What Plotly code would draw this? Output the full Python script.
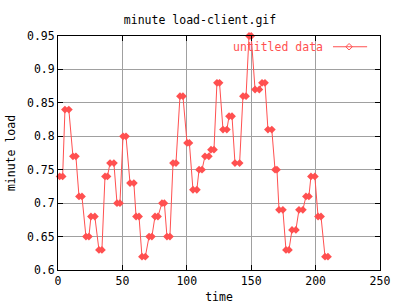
import plotly.graph_objects as go

# plateau start times and load values (each value held over two samples)
start_times = [1.3, 5.4, 11.6, 16.3, 21.7, 25.6, 31.8, 36.5, 40.4, 45.8, 50.5, 55.9,
               60.6, 65.2, 70.7, 75.3, 80.7, 84.6, 89.3, 94.7, 100.2, 104.8, 109.5,
               114.1, 118.8, 123.4, 128.1, 132.8, 137.4, 143.6, 148.3, 153.0, 158.4,
               163.0, 168.5, 171.6, 177.0, 181.7, 187.1, 192.5, 196.4, 201.9, 207.3]
end_times = [3.6, 8.4, 13.9, 18.6, 24.0, 28.6, 34.1, 38.4, 43.4, 48.1, 52.8, 58.9,
             62.9, 67.8, 72.9, 77.6, 82.6, 86.9, 91.6, 97.0, 102.0, 107.8, 111.8,
             117.1, 121.1, 125.4, 131.1, 135.1, 141.0, 146.0, 150.0, 156.3, 160.7,
             166.0, 170.0, 174.6, 179.3, 184.7, 190.1, 194.8, 199.4, 204.2, 209.6]
loads = [0.74, 0.84, 0.77, 0.71, 0.65, 0.68, 0.63, 0.74, 0.76, 0.70, 0.80, 0.73,
         0.68, 0.62, 0.65, 0.68, 0.70, 0.65, 0.76, 0.86, 0.79, 0.72, 0.75, 0.77,
         0.78, 0.88, 0.81, 0.83, 0.76, 0.86, 0.95, 0.87, 0.88, 0.81, 0.75, 0.69,
         0.63, 0.66, 0.69, 0.71, 0.74, 0.68, 0.62]

x_ticks = [0, 50, 100, 150, 200, 250]
y_ticks = [0.6, 0.65, 0.7, 0.75, 0.8, 0.85, 0.9, 0.95]
y_tick_labels = ["0.6", "0.65", "0.7", "0.75", "0.8", "0.85", "0.9", "0.95"]

xs, ys = [], []
for s, e, v in zip(start_times, end_times, loads):
    xs += [s, e]
    ys += [v, v]

RED = "#ff5050"
FONT = "DejaVu Sans Mono"
FS = 11.5

fig = go.Figure()
fig.add_trace(go.Scatter(
    x=xs, y=ys, mode="lines+markers",
    line=dict(color=RED, width=1),
    marker=dict(symbol="diamond", size=6, color=RED),
    showlegend=False, cliponaxis=False,
))

axis_common = dict(
    showline=True, linecolor="black", linewidth=1, mirror="ticks",
    ticks="inside", ticklen=5, tickcolor="black", automargin=False,
    showgrid=True, gridcolor="#a0a0a0", gridwidth=1, zeroline=False,
    tickfont=dict(family=FONT, size=FS, color="black"),
)

fig.update_layout(
    width=400, height=304,
    margin=dict(l=58, r=20, t=36, b=34),
    paper_bgcolor="white", plot_bgcolor="white",
    font=dict(family=FONT, size=FS, color="black"),
    title=dict(text="minute load-client.gif", x=0.5, xanchor="center",
               y=0.934, yanchor="middle", font=dict(family=FONT, size=FS)),
    xaxis=dict(range=[0, 250], tickvals=x_ticks,
               title=dict(text="time", standoff=9, font=dict(family=FONT, size=FS)),
               **axis_common),
    yaxis=dict(range=[0.6, 0.95], tickvals=y_ticks, ticktext=y_tick_labels,
               title=dict(text="minute load", standoff=8, font=dict(family=FONT, size=FS)),
               **axis_common),
    annotations=[dict(text="untitled data", xref="paper", yref="paper",
                      x=0.829, y=0.954, xanchor="right", yanchor="middle",
                      showarrow=False, font=dict(family=FONT, size=FS, color=RED))],
    shapes=[dict(type="line", xref="paper", yref="paper",
                 x0=0.854, x1=0.96, y0=0.954, y1=0.954,
                 line=dict(color=RED, width=1))],
)
fig.add_trace(go.Scatter(x=[0.904], y=[0.954], xaxis="x2", yaxis="y2",
                         mode="markers", marker=dict(symbol="diamond-open", size=5, color=RED),
                         showlegend=False, hoverinfo="skip"))
fig.update_layout(
    xaxis2=dict(domain=[0, 1], range=[0, 1], overlaying="x", visible=False),
    yaxis2=dict(domain=[0, 1], range=[0, 1], overlaying="y", visible=False),
)

fig.write_html("out.html")
